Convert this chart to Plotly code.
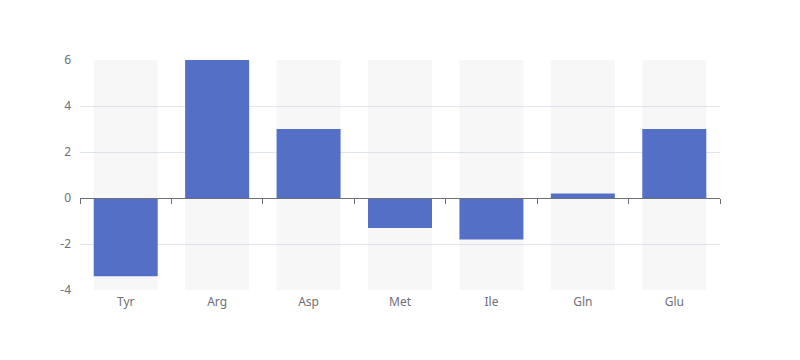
import plotly.graph_objects as go

categories = ["Tyr", "Arg", "Asp", "Met", "Ile", "Gln", "Glu"]
values = [-3.4, 6, 3, -1.3, -1.8, 0.2, 3]
y_tick_values = [-4, -2, 0, 2, 4, 6]
y_tick_labels = ["-4", "-2", "0", "2", "4", "6"]
y_min, y_max = -4, 6

BAR_COLOR = "#5470c6"
SHADOW = "rgba(180,180,180,0.11)"
TXT = "#6e7079"
GRID = "#e0e6f1"
FONT = "Noto Sans, DejaVu Sans, sans-serif"

fig = go.Figure()
fig.add_trace(go.Bar(
    x=categories, y=[y_max - y_min] * len(categories), base=[y_min] * len(categories),
    marker=dict(color=SHADOW, line=dict(width=0)), opacity=1, width=0.7,
    hoverinfo="skip", showlegend=False,
))
fig.add_trace(go.Bar(
    x=categories, y=values, marker=dict(color=BAR_COLOR, line=dict(width=0)),
    opacity=1, width=0.7, showlegend=False,
))
# invisible trace to carry the axis drawn on zero
fig.add_trace(go.Scatter(x=categories, y=[0] * len(categories), xaxis="x2", mode="none",
                         showlegend=False, hoverinfo="skip"))

fig.update_layout(
    width=792, height=352,
    margin=dict(l=72, r=80, t=52, b=70),
    paper_bgcolor="white", plot_bgcolor="white",
    barmode="overlay",
    font=dict(family=FONT, size=12, color=TXT),
    xaxis=dict(
        type="category", showgrid=False, showline=False, zeroline=False,
        ticks="", ticklabelstandoff=3, tickfont=dict(color=TXT, size=12),
        range=[-0.5, len(categories) - 0.5],
    ),
    xaxis2=dict(
        type="category", overlaying="x", anchor="free", position=(0 - y_min) / (y_max - y_min),
        side="bottom", showline=True, linecolor=TXT, linewidth=1,
        ticks="outside", ticklen=5, tickcolor=TXT, tickson="boundaries",
        showticklabels=False, showgrid=False, zeroline=False,
        range=[-0.5, len(categories) - 0.5],
    ),
    yaxis=dict(
        range=[y_min, y_max], tickvals=y_tick_values, ticktext=y_tick_labels,
        showgrid=True, gridcolor=GRID, gridwidth=1,
        zeroline=False, showline=False, ticks="", ticklabelstandoff=8,
        tickfont=dict(color=TXT, size=12),
    ),
)

fig.write_html("out.html")
